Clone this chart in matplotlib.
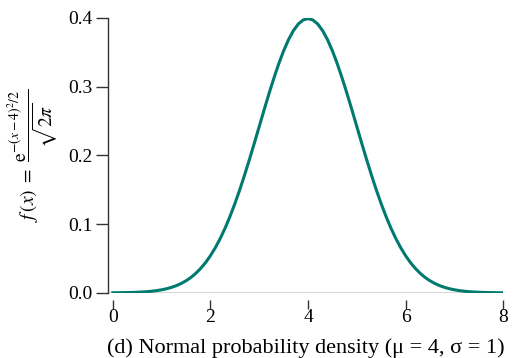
import numpy as np
import matplotlib.pyplot as plt

plt.rcParams['font.family'] = ['Liberation Serif', 'DejaVu Serif']
plt.rcParams['mathtext.fontset'] = 'stix'

# normal density, mu = 4, sigma = 1, read at x = 0, 0.1, ..., 8
x = np.linspace(0, 8, 81)
half = [0.00013, 0.00020, 0.00029, 0.00042, 0.00061, 0.00087, 0.00123, 0.00172,
        0.00238, 0.00327, 0.00443, 0.00595, 0.00792, 0.01042, 0.01358, 0.01753,
        0.02239, 0.02833, 0.03547, 0.04398, 0.05399, 0.06562, 0.07895, 0.09405,
        0.11092, 0.12952, 0.14973, 0.17137, 0.19419, 0.21785, 0.24197, 0.26609,
        0.28969, 0.31225, 0.33322, 0.35207, 0.36827, 0.38139, 0.39104, 0.39695]
peak = [0.39894]
density = half + peak + half[::-1]

xticks = [0, 2, 4, 6, 8]
yticks = [0.0, 0.1, 0.2, 0.3, 0.4]
teal = '#007a6e'
axcol = '#333333'

fig = plt.figure(figsize=(5.14, 3.58), dpi=100)
ax = fig.add_axes([0.210, 0.182, 0.769, 0.768])

ax.plot(x, density, color=teal, lw=2.2, zorder=3)
ax.axhline(0, color=axcol, lw=1.0, zorder=2)

ax.set_xlim(-0.1, 8.0)
ax.set_ylim(0, 0.4)
ax.set_xticks(xticks)
ax.set_xticklabels([str(t) for t in xticks])
ax.set_yticks(yticks)
ax.set_yticklabels(['%.1f' % t for t in yticks])

for s in ['top', 'right']:
    ax.spines[s].set_visible(False)
ax.spines['left'].set_color(axcol)
ax.spines['left'].set_linewidth(1.0)
ax.spines['bottom'].set_position(('outward', 5))
ax.spines['bottom'].set_edgecolor('none')

ax.tick_params(axis='y', direction='out', length=9, width=1.0, color=axcol,
               pad=2, labelsize=14)
ax.tick_params(axis='x', direction='out', length=6.5, width=1.0, color=axcol,
               pad=0, labelsize=14)

ax.set_xlabel('(d) Normal probability density (\u03bc = 4, \u03c3 = 1)',
              fontsize=16, labelpad=9)
ax.set_ylabel(r'$f\,(x)\ = \ \dfrac{\mathrm{e}^{-(x-4)^2/2}}{\sqrt{2\pi}}$',
              fontsize=14, labelpad=6)

fig.savefig('out.png', dpi=100)
